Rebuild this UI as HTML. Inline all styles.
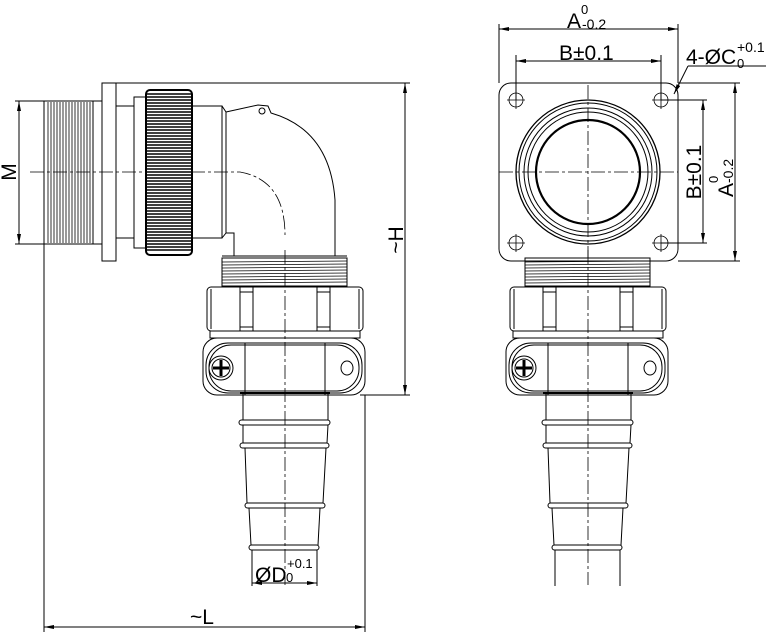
<!DOCTYPE html>
<html><head><meta charset="utf-8"><style>
html,body{margin:0;padding:0;background:#fff;}
svg{display:block;}
text{font-family:"Liberation Sans",sans-serif;fill:#000;}
</style></head><body>
<svg width="766" height="639" viewBox="0 0 766 639" xmlns="http://www.w3.org/2000/svg">
<defs>
<marker id="ar" viewBox="0 0 10 4" refX="10" refY="2" markerWidth="10" markerHeight="4" orient="auto-start-reverse" markerUnits="userSpaceOnUse"><path d="M0,0 L10,2 L0,4z" fill="#000"/></marker>
<g id="lower" fill="none" stroke="#000" stroke-width="1">
  <rect x="222" y="258" width="125" height="28"/>
  <g stroke-width="0.7">
    <line x1="222" y1="262" x2="347" y2="261"/><line x1="222" y1="265" x2="347" y2="264"/>
    <line x1="222" y1="268" x2="347" y2="267"/><line x1="222" y1="271" x2="347" y2="270"/>
    <line x1="222" y1="274" x2="347" y2="273"/><line x1="222" y1="277" x2="347" y2="276"/>
    <line x1="222" y1="280" x2="347" y2="279"/><line x1="222" y1="283" x2="347" y2="282"/>
  </g>
  <rect x="207" y="287" width="156" height="44" rx="4"/>
  <line x1="211" y1="289" x2="211" y2="329"/><line x1="359" y1="289" x2="359" y2="329"/>
  <line x1="240" y1="287" x2="240" y2="331"/><line x1="253" y1="287" x2="253" y2="331"/>
  <line x1="317" y1="287" x2="317" y2="331"/><line x1="330" y1="287" x2="330" y2="331"/>
  <rect x="240" y="292" width="13" height="35"/><rect x="317" y="292" width="13" height="35"/>
  <rect x="210" y="331" width="150" height="7"/>
  <rect x="203" y="338" width="162" height="57" rx="14"/>
  <rect x="206" y="343" width="156" height="50" rx="22"/>
  <rect x="209" y="345" width="150" height="46" rx="22"/>
  <line x1="245" y1="343" x2="245" y2="395"/><line x1="325" y1="343" x2="325" y2="395"/>
  <circle cx="221" cy="368" r="12"/><circle cx="221" cy="368" r="9"/>
  <line x1="213" y1="368" x2="229" y2="368" stroke-width="3"/><line x1="221" y1="360" x2="221" y2="376" stroke-width="3"/>
  <ellipse cx="347" cy="368" rx="6" ry="7"/>
  <line x1="240" y1="393" x2="330" y2="393" stroke-width="2"/>
  <path d="M243,393 L243,420 M328,393 L328,420"/>
  <rect x="239" y="420" width="91" height="5" rx="2.5"/>
  <path d="M243,425 L243,443 M328,425 L327,443"/>
  <rect x="240" y="443" width="89" height="5" rx="2.5"/>
  <path d="M245,448 L247,503 M326,448 L323,503"/>
  <rect x="245" y="503" width="80" height="5" rx="2.5"/>
  <path d="M249,508 L251,545 M320,508 L318,545"/>
  <rect x="249" y="545" width="70" height="5" rx="2.5"/>
  <path d="M252,550 L252,586 M317,550 L317,586"/>
  <line x1="285" y1="250" x2="285" y2="585" stroke-dasharray="14,3,3,3" stroke-width="0.8"/>
</g>
</defs>

<g fill="none" stroke="#000" stroke-width="1">
<line x1="102" y1="83" x2="410" y2="83"/>
<line x1="360" y1="395" x2="410" y2="395"/>
<line x1="405" y1="83" x2="405" y2="395" marker-start="url(#ar)" marker-end="url(#ar)"/>
<line x1="15" y1="101" x2="92" y2="101"/><line x1="15" y1="244" x2="44" y2="244"/>
<line x1="19" y1="101" x2="19" y2="244" marker-start="url(#ar)" marker-end="url(#ar)"/>
<line x1="44" y1="244" x2="44" y2="632"/>
<line x1="365" y1="395" x2="365" y2="632"/>
<line x1="44" y1="627" x2="365" y2="627" marker-start="url(#ar)" marker-end="url(#ar)"/>
<rect x="44" y="101" width="49" height="143"/>
<g stroke-width="0.8">
<path d="M48,102V243M51,102V243M54,102V243M57,102V243M60,102V243M63,102V243M66,102V243M69,102V243M72,102V243M75,102V243M78,102V243M81,102V243M84,102V243M87,102V243M90,102V243"/>
</g>
<rect x="93" y="101" width="9" height="143"/>
<rect x="102" y="83" width="14" height="178"/>
<rect x="116" y="106" width="18" height="132"/>
<rect x="134" y="97" width="12" height="151"/>
<rect x="146" y="90" width="46" height="165" rx="4" stroke-width="2"/>
<g stroke-width="1.4">
<path d="M147,94H191M147,97H191M147,100H191M147,103H191M147,106H191M147,109H191M147,112H191M147,115H191M147,118H191M147,121H191M147,124H191M147,127H191M147,130H191M147,133H191M147,136H191M147,139H191M147,142H191M147,145H191M147,148H191M147,151H191M147,154H191M147,157H191M147,160H191M147,163H191M147,166H191M147,169H191M147,172H191M147,175H191M147,178H191M147,181H191M147,184H191M147,187H191M147,190H191M147,193H191M147,196H191M147,199H191M147,202H191M147,205H191M147,208H191M147,211H191M147,214H191M147,217H191M147,220H191M147,223H191M147,226H191M147,229H191M147,232H191M147,235H191M147,238H191M147,241H191M147,244H191M147,247H191M147,250H191"/>
</g>
<rect x="192" y="106" width="30" height="132"/>
<path d="M222,106 L226,112 L226,233 L222,238"/>
<path d="M226,112 L258,105 L268,106 L271,113 Q330,130 335,200 L335,256"/>
<circle cx="262" cy="111" r="3"/>
<path d="M226,233 L234,233 L234,256"/>
<line x1="222" y1="256" x2="347" y2="256"/>
<path d="M30,172 L240,172 Q285,180 285,235" stroke-dasharray="14,3,3,3" stroke-width="0.8"/>
<use href="#lower"/>
<line x1="252" y1="583" x2="317" y2="583" marker-start="url(#ar)" marker-end="url(#ar)"/>

<line x1="499" y1="24" x2="499" y2="83"/><line x1="678" y1="24" x2="678" y2="83"/>
<line x1="499" y1="29" x2="678" y2="29" marker-start="url(#ar)" marker-end="url(#ar)"/>
<line x1="516" y1="55" x2="516" y2="100"/><line x1="661" y1="55" x2="661" y2="100"/>
<line x1="516" y1="61" x2="661" y2="61" marker-start="url(#ar)" marker-end="url(#ar)"/>
<line x1="678" y1="83" x2="740" y2="83"/><line x1="678" y1="261" x2="740" y2="261"/>
<line x1="661" y1="100" x2="707" y2="100"/><line x1="661" y1="243" x2="707" y2="243"/>
<line x1="703" y1="100" x2="703" y2="243" marker-start="url(#ar)" marker-end="url(#ar)"/>
<line x1="735" y1="83" x2="735" y2="261" marker-start="url(#ar)" marker-end="url(#ar)"/>
<line x1="674" y1="94" x2="688" y2="66" marker-start="url(#ar)"/>
<line x1="688" y1="66" x2="766" y2="66"/>
<rect x="499" y="83" width="179" height="178" rx="12"/>
<g stroke-width="0.8">
<circle cx="516" cy="100" r="7"/><path d="M507,100H525M516,91V109"/>
<circle cx="661" cy="100" r="7"/><path d="M652,100H670M661,91V109"/>
<circle cx="516" cy="243" r="7"/><path d="M507,243H525M516,234V252"/>
<circle cx="661" cy="243" r="7"/><path d="M652,243H670M661,234V252"/>
</g>
<circle cx="588" cy="172" r="72" stroke-width="1.3"/>
<circle cx="588" cy="172" r="69"/>
<circle cx="588" cy="172" r="64"/>
<circle cx="588" cy="172" r="60"/>
<circle cx="588" cy="172" r="52" stroke-width="2.2"/>
<line x1="499" y1="172" x2="678" y2="172" stroke-dasharray="14,3,3,3" stroke-width="0.8"/>
<line x1="588" y1="85" x2="588" y2="258" stroke-dasharray="14,3,3,3" stroke-width="0.8"/>
<use href="#lower" transform="translate(303,0)"/>
</g>

<text x="0" y="0" font-size="21" transform="translate(16,172) rotate(-90)" text-anchor="middle">M</text>
<text x="0" y="0" font-size="21" transform="translate(403,240) rotate(-90)" text-anchor="middle">~H</text>
<text x="190" y="624" font-size="21">~L</text>
<text x="255" y="582" font-size="21">ØD</text>
<text x="286" y="582" font-size="13">0</text>
<text x="287" y="568" font-size="13">+0.1</text>
<text x="567" y="28" font-size="21">A</text>
<text x="581" y="14" font-size="13">0</text>
<text x="582" y="29" font-size="14">-0.2</text>
<text x="559" y="60" font-size="21">B±0.1</text>
<text x="686" y="64" font-size="21">4-ØC</text>
<text x="737" y="68" font-size="13">0</text>
<text x="737" y="52" font-size="14">+0.1</text>
<text x="0" y="0" font-size="21" transform="translate(701,172) rotate(-90)" text-anchor="middle">B±0.1</text>
<g transform="translate(733,197) rotate(-90)">
<text x="0" y="0" font-size="21">A</text>
<text x="14" y="-15" font-size="13">0</text>
<text x="14" y="0" font-size="14">-0.2</text>
</g>
</svg>
</body></html>
